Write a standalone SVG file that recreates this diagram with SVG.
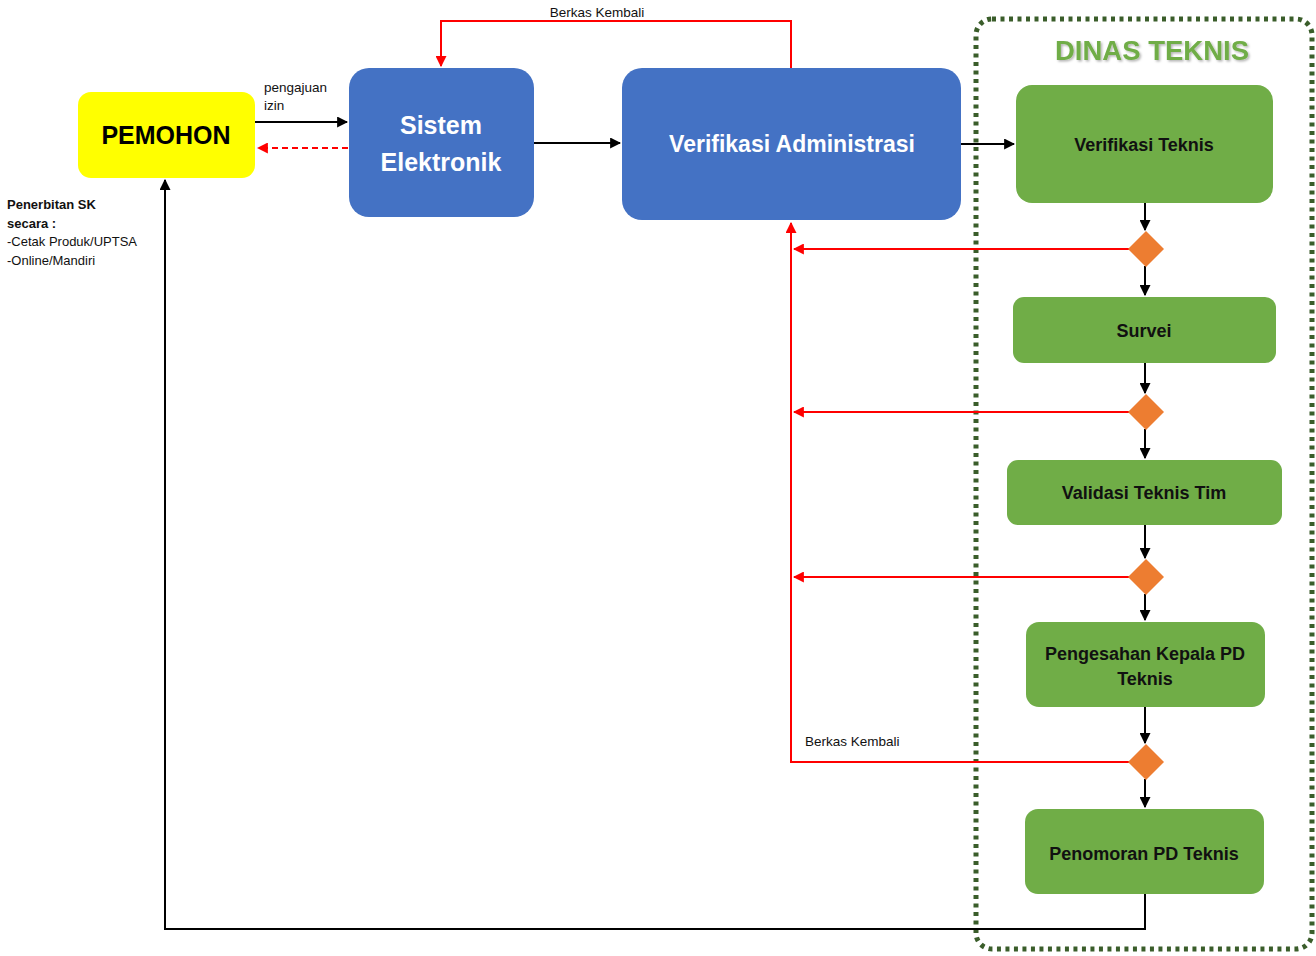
<svg xmlns="http://www.w3.org/2000/svg" width="1316" height="956" viewBox="0 0 1316 956">
<style>
.blue{fill:#4472C4}
.green{fill:#70AD47}
.dia{fill:#ED7D31}
.wt{font-family:"Liberation Sans",Arial,sans-serif;font-weight:bold;fill:#fff;text-anchor:middle}
.bt{font-family:"Liberation Sans",Arial,sans-serif;font-weight:bold;fill:#111;text-anchor:middle;font-size:18px}
.sm{font-family:"Liberation Sans",Arial,sans-serif;font-size:13.5px;fill:#111}
.smb{font-family:"Liberation Sans",Arial,sans-serif;font-size:13px;fill:#111}
.k{stroke:#000;stroke-width:2;fill:none}
.r{stroke:#FF0000;stroke-width:2;fill:none}
</style>
<defs>
<marker id="ak" viewBox="0 0 10 10" refX="9" refY="5" markerWidth="5.5" markerHeight="5.5" orient="auto" markerUnits="strokeWidth"><path d="M0,0L10,5L0,10z" fill="#000"/></marker>
<marker id="ar" viewBox="0 0 10 10" refX="9" refY="5" markerWidth="5.5" markerHeight="5.5" orient="auto" markerUnits="strokeWidth"><path d="M0,0L10,5L0,10z" fill="#FF0000"/></marker>
<filter id="sh" x="-10%" y="-20%" width="120%" height="140%"><feDropShadow dx="1.5" dy="1.5" stdDeviation="1" flood-color="#000" flood-opacity="0.3"/></filter>
</defs>

<g id="dinas-teknis">
<rect x="976" y="19" width="336" height="930" rx="16" fill="none" stroke="#3A5D2A" stroke-width="5" stroke-dasharray="4 4.5"/>
<text x="1152" y="60" text-anchor="middle" font-family="Liberation Sans,Arial,sans-serif" font-weight="bold" font-size="27.5" fill="#70AD47" filter="url(#sh)">DINAS TEKNIS</text>
</g>

<g id="connectors">
<line class="k" x1="255" y1="122" x2="347" y2="122" marker-end="url(#ak)"/>
<line class="r" x1="348" y1="148" x2="258" y2="148" stroke-dasharray="6 4" marker-end="url(#ar)"/>
<line class="k" x1="534" y1="143" x2="620" y2="143" marker-end="url(#ak)"/>
<line class="k" x1="961" y1="144" x2="1014" y2="144" marker-end="url(#ak)"/>
<polyline class="r" points="791,68 791,21 441,21 441,66" marker-end="url(#ar)"/>
<line class="k" x1="1145" y1="203" x2="1145" y2="230" marker-end="url(#ak)"/>
<line class="k" x1="1145" y1="266" x2="1145" y2="295" marker-end="url(#ak)"/>
<line class="k" x1="1145" y1="363" x2="1145" y2="393" marker-end="url(#ak)"/>
<line class="k" x1="1145" y1="429" x2="1145" y2="458" marker-end="url(#ak)"/>
<line class="k" x1="1145" y1="525" x2="1145" y2="558" marker-end="url(#ak)"/>
<line class="k" x1="1145" y1="594" x2="1145" y2="620" marker-end="url(#ak)"/>
<line class="k" x1="1145" y1="707" x2="1145" y2="743" marker-end="url(#ak)"/>
<line class="k" x1="1145" y1="779" x2="1145" y2="807" marker-end="url(#ak)"/>
<line class="r" x1="1129" y1="249" x2="794" y2="249" marker-end="url(#ar)"/>
<line class="r" x1="1129" y1="412" x2="794" y2="412" marker-end="url(#ar)"/>
<line class="r" x1="1129" y1="577" x2="794" y2="577" marker-end="url(#ar)"/>
<polyline class="r" points="1129,762 791,762 791,223" marker-end="url(#ar)"/>
<polyline class="k" points="1145,894 1145,929 165,929 165,180" marker-end="url(#ak)"/>
<text class="sm" x="597" y="17" text-anchor="middle">Berkas Kembali</text>
<text class="sm" x="805" y="746">Berkas Kembali</text>
<text class="sm" x="264" y="92">pengajuan</text>
<text class="sm" x="264" y="110">izin</text>
</g>

<g id="pemohon">
<rect x="78" y="92" width="177" height="86" rx="13" fill="#FFFF00"/>
<text x="166" y="144" text-anchor="middle" font-family="Liberation Sans,Arial,sans-serif" font-weight="bold" font-size="25" fill="#000">PEMOHON</text>
</g>

<g id="penerbitan-note">
<text class="smb" font-weight="bold" x="7" y="209">Penerbitan SK</text>
<text class="smb" font-weight="bold" x="7" y="228">secara :</text>
<text class="smb" x="7" y="246">-Cetak Produk/UPTSA</text>
<text class="smb" x="7" y="265">-Online/Mandiri</text>
</g>

<g id="sistem-elektronik">
<rect class="blue" x="349" y="68" width="185" height="149" rx="20"/>
<text class="wt" x="441" y="134" font-size="25">Sistem</text>
<text class="wt" x="441" y="171" font-size="25">Elektronik</text>
</g>

<g id="verifikasi-administrasi">
<rect class="blue" x="622" y="68" width="339" height="152" rx="20"/>
<text class="wt" x="792" y="152" font-size="23">Verifikasi Administrasi</text>
</g>

<g id="verifikasi-teknis">
<rect class="green" x="1016" y="85" width="257" height="118" rx="16"/>
<text class="bt" x="1144" y="151">Verifikasi Teknis</text>
</g>
<g id="d1"><polygon class="dia" points="1146,231 1164,249 1146,267 1128,249"/></g>

<g id="survei">
<rect class="green" x="1013" y="297" width="263" height="66" rx="11"/>
<text class="bt" x="1144" y="337">Survei</text>
</g>
<g id="d2"><polygon class="dia" points="1146,394 1164,412 1146,430 1128,412"/></g>

<g id="validasi-teknis-tim">
<rect class="green" x="1007" y="460" width="275" height="65" rx="11"/>
<text class="bt" x="1144" y="499">Validasi Teknis Tim</text>
</g>
<g id="d3"><polygon class="dia" points="1146,559 1164,577 1146,595 1128,577"/></g>

<g id="pengesahan">
<rect class="green" x="1026" y="622" width="239" height="85" rx="13"/>
<text class="bt" x="1145" y="660">Pengesahan Kepala PD</text>
<text class="bt" x="1145" y="685">Teknis</text>
</g>
<g id="d4"><polygon class="dia" points="1146,744 1164,762 1146,780 1128,762"/></g>

<g id="penomoran">
<rect class="green" x="1025" y="809" width="239" height="85" rx="13"/>
<text class="bt" x="1144" y="860">Penomoran PD Teknis</text>
</g>
</svg>
